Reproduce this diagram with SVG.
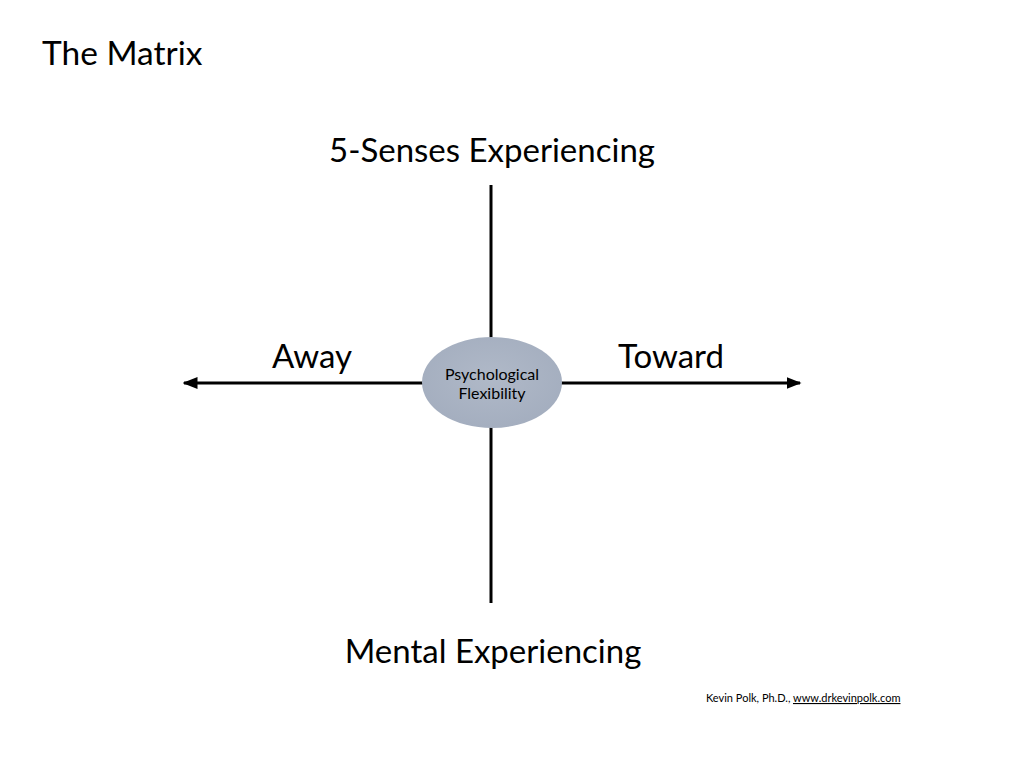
<svg xmlns="http://www.w3.org/2000/svg" width="1024" height="768" viewBox="0 0 1024 768">
<defs>
<style>
text{font-family:Lato,"Open Sans","Liberation Sans",sans-serif;fill:#000}
.big{font-size:33px}
.conn{stroke:#000;stroke-width:3;fill:none}
</style>
<marker id="ah" viewBox="0 0 10 10" refX="9" refY="5" markerWidth="5" markerHeight="5" orient="auto" markerUnits="strokeWidth">
<path d="M0,1 L10,5 L0,9 Z" fill="#000"/>
</marker>
<radialGradient id="eg" cx="50%" cy="45%" r="55%">
<stop offset="0" stop-color="#B0B9C8"/>
<stop offset="1" stop-color="#A4AEBF"/>
</radialGradient>
</defs>
<rect width="1024" height="768" fill="#fff"/>
<text id="title" x="42" y="65" font-size="33.5">The Matrix</text>
<g id="connectors">
<line class="conn" x1="491" y1="185" x2="491" y2="338"/>
<line class="conn" x1="491" y1="427" x2="491" y2="603"/>
<line class="conn" x1="423" y1="383" x2="184" y2="383" marker-end="url(#ah)"/>
<line class="conn" x1="561" y1="383" x2="800" y2="383" marker-end="url(#ah)"/>
</g>
<g id="center">
<ellipse cx="492" cy="382.5" rx="70" ry="45.5" fill="url(#eg)"/>
<text x="492" y="380" font-size="16" text-anchor="middle">Psychological</text>
<text x="492" y="399" font-size="16" text-anchor="middle">Flexibility</text>
</g>
<g id="top"><text class="big" x="492" y="162" text-anchor="middle">5-Senses Experiencing</text></g>
<g id="bottom"><text class="big" x="493" y="663" text-anchor="middle">Mental Experiencing</text></g>
<g id="away"><text class="big" x="312" y="368" text-anchor="middle">Away</text></g>
<g id="toward"><text class="big" x="671" y="368" text-anchor="middle">Toward</text></g>
<text id="footer" x="706" y="702" font-size="11">Kevin Polk, Ph.D., <tspan text-decoration="underline">www.drkevinpolk.com</tspan></text>
</svg>
